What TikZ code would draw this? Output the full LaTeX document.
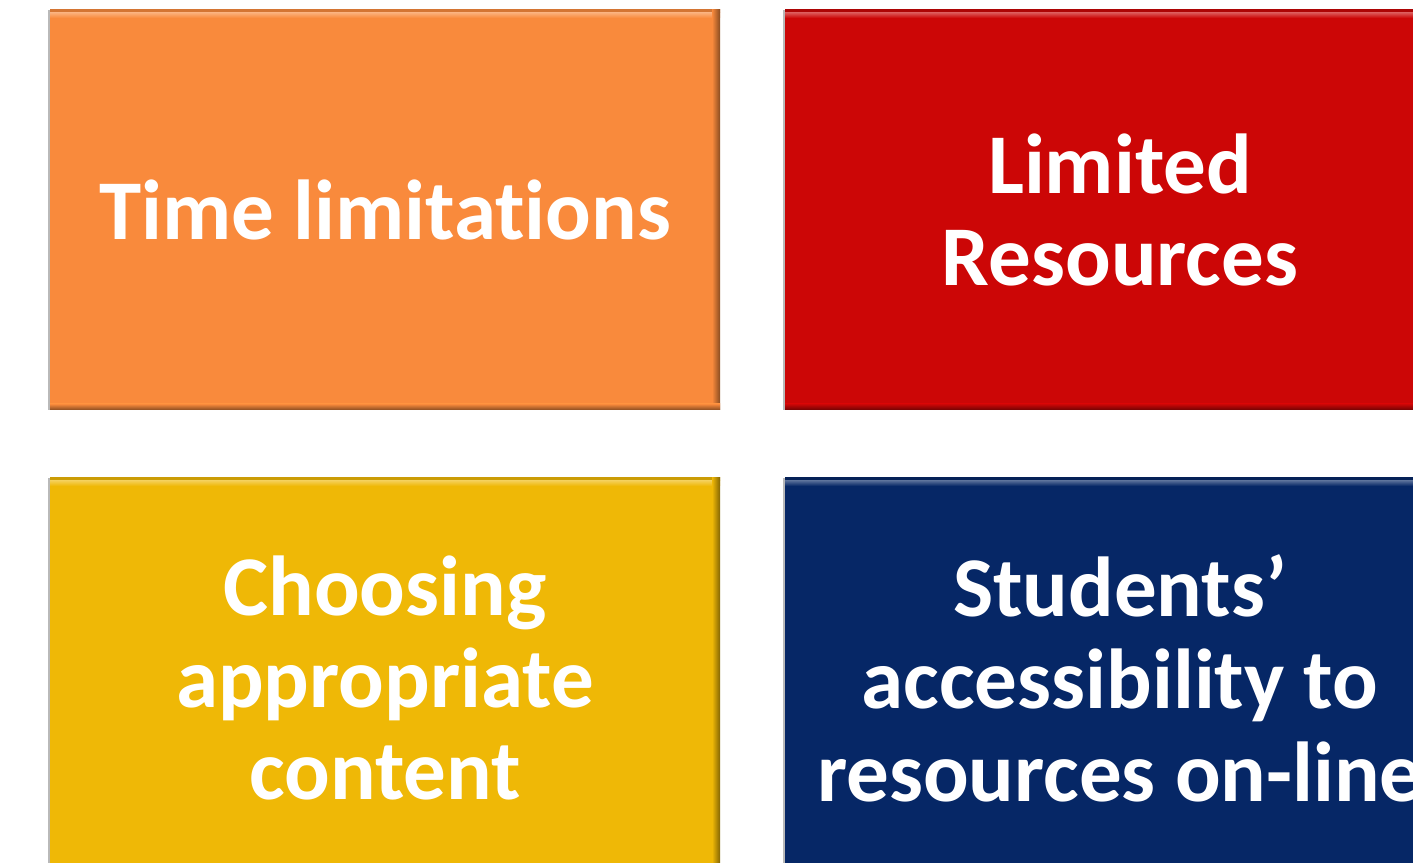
\documentclass[tikz,border=0pt]{standalone}
\usepackage{fontspec}
\setmainfont{Carlito}[Ligatures=NoCommon]
\usepackage{tkz-euclide}
\usetikzlibrary{calc}

\definecolor{tileorange}{HTML}{F98A3C}
\definecolor{tilered}{HTML}{CC0606}
\definecolor{tileyellow}{HTML}{EFB806}
\definecolor{tilenavy}{HTML}{062766}

\begin{document}
\begin{tikzpicture}[
  tile/.style={minimum width=6.7cm,minimum height=4cm,inner sep=0pt,
    fill=#1,text=white,align=center,
    font=\fontsize{24.2}{26.3}\selectfont\bfseries,
    preaction={fill=gray!55,transform canvas={xshift=-0.02cm}},
    path picture={
      % bevel: light top edge, dark right and bottom edges
      \shade[top color=#1!85!black,bottom color=#1!70!white]
        (path picture bounding box.north west)
        rectangle ([yshift=-0.03cm]path picture bounding box.north east);
      \shade[top color=#1!70!white,bottom color=#1]
        ([yshift=-0.03cm]path picture bounding box.north west)
        rectangle ([yshift=-0.08cm]path picture bounding box.north east);
      \shade[left color=#1,right color=#1!55!black]
        ([xshift=-0.08cm]path picture bounding box.south east)
        rectangle (path picture bounding box.north east);
      \shade[top color=#1,bottom color=#1!55!black]
        (path picture bounding box.south west)
        rectangle ([yshift=0.06cm]path picture bounding box.south east);
    }}]
\useasboundingbox (0,0) rectangle (14.13,8.63);
\clip (0,0) rectangle (14.13,8.63);

\tkzDefPoints{3.85/6.53/T,11.2/6.53/R,3.85/1.85/C,11.2/1.85/S}

\node[tile=tileorange] (time) at (T) {Time limitations};
\node[tile=tilered] (resources) at (R) {Limited\\Resources};
\node[tile=tileyellow] (content) at (C) {Choosing\\appropriate\\content};
\node[tile=tilenavy] (access) at (S) {Students’\\accessibility to\\resources on-line};

\end{tikzpicture}
\end{document}
